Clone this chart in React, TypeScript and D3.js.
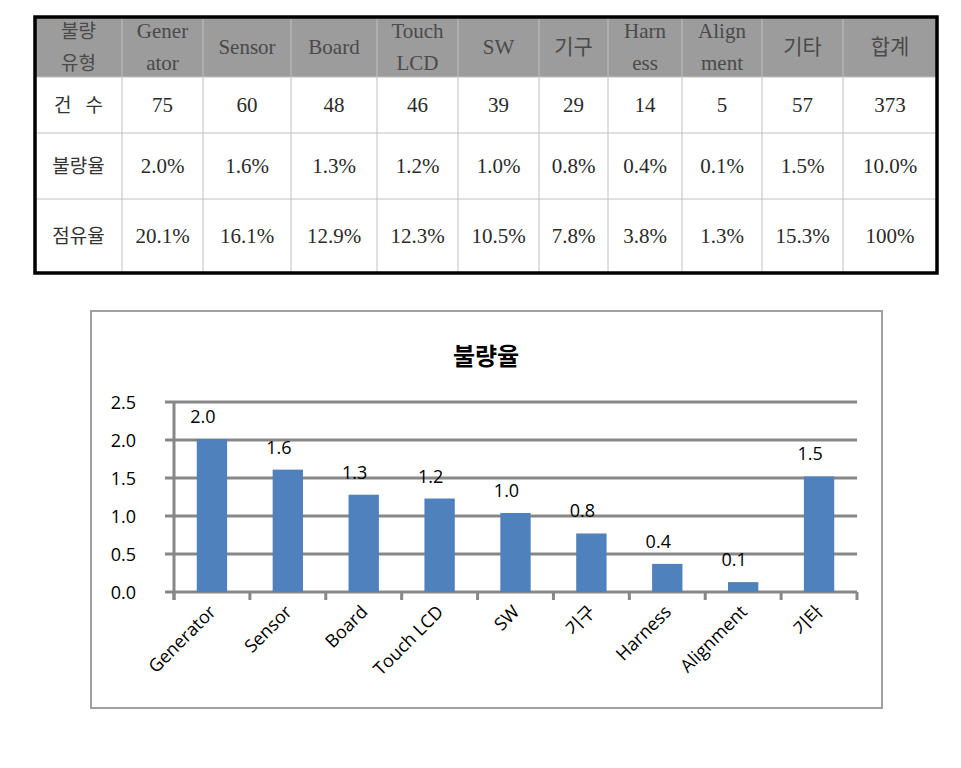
import React from "react";
import * as d3 from "d3";

// ---- table data ----
const headerLabel: string[] = ["불량", "유형"];
const tableHeaders: string[][] = [
  ["Gener", "ator"], ["Sensor"], ["Board"], ["Touch", "LCD"], ["SW"], ["기구"],
  ["Harn", "ess"], ["Align", "ment"], ["기타"], ["합계"],
];
const rowLabels: string[] = ["건   수", "불량율", "점유율"];
const countRow: string[] = ["75", "60", "48", "46", "39", "29", "14", "5", "57", "373"];
const rateRow: string[] = ["2.0%", "1.6%", "1.3%", "1.2%", "1.0%", "0.8%", "0.4%", "0.1%", "1.5%", "10.0%"];
const shareRow: string[] = ["20.1%", "16.1%", "12.9%", "12.3%", "10.5%", "7.8%", "3.8%", "1.3%", "15.3%", "100%"];

// ---- chart data ----
const chartTitle = "불량율";
const categories: string[] = ["Generator", "Sensor", "Board", "Touch LCD", "SW", "기구", "Harness", "Alignment", "기타"];
const defectRates: number[] = [2.01, 1.61, 1.28, 1.23, 1.04, 0.77, 0.37, 0.13, 1.52];
const yTicks: number[] = [0, 0.5, 1.0, 1.5, 2.0, 2.5];

const serif = "'Liberation Serif', 'DejaVu Serif', 'Noto Sans CJK KR', serif";
const sans = "'Noto Sans CJK KR', 'Open Sans', 'DejaVu Sans', sans-serif";
const latin = "'Open Sans', 'Noto Sans CJK KR', sans-serif";

export default function App() {
  // table geometry
  const colEdges = [35, 122, 203, 291, 377, 458, 539, 608, 682, 762, 843, 937];
  const rowEdges = [17, 77, 133, 199, 273];
  const rows = [countRow, rateRow, shareRow];

  // chart geometry
  const x = d3.scaleBand<string>().domain(categories).range([174, 857]).paddingInner(0.6).paddingOuter(0.3);
  const band = d3.scaleBand<string>().domain(categories).range([174, 857]);
  const y = d3.scaleLinear().domain([0, 2.5]).range([592, 402]);
  const tickEdges = d3.range(categories.length + 1).map((i) => 174 + i * band.step());

  return (
    <svg width={961} height={768} style={{ position: "absolute", left: 0, top: 0, display: "block" }}>
      <rect x={0} y={0} width={961} height={768} fill="#fff" />
      {/* ---------- table ---------- */}
      <rect x={colEdges[0]} y={rowEdges[0]} width={colEdges[colEdges.length - 1] - colEdges[0]} height={rowEdges[1] - rowEdges[0]} fill="#9c9c9c" />
      {colEdges.slice(1, -1).map((cx, i) => (
        <line key={"cv" + i} x1={cx} x2={cx} y1={rowEdges[0]} y2={rowEdges[rowEdges.length - 1]} stroke={"#c0c0c0"} strokeWidth={1} />
      ))}
      {rowEdges.slice(1, -1).map((ry, i) => (
        <line key={"rh" + i} x1={colEdges[0]} x2={colEdges[colEdges.length - 1]} y1={ry} y2={ry} stroke="#c0c0c0" strokeWidth={1} />
      ))}
      <rect x={colEdges[0]} y={rowEdges[0]} width={colEdges[colEdges.length - 1] - colEdges[0]} height={rowEdges[rowEdges.length - 1] - rowEdges[0]} fill="none" stroke="#000" strokeWidth={3.5} />
      {headerLabel.map((t, i) => (
        <text key={"hl" + i} x={(colEdges[0] + colEdges[1]) / 2} y={47 + (i - 0.5) * 32} textAnchor="middle" dominantBaseline="central" fontFamily={serif} fontSize={19} fill="#4a4a4a">{t}</text>
      ))}
      {tableHeaders.map((lines, c) => {
        const cx = (colEdges[c + 1] + colEdges[c + 2]) / 2;
        return lines.map((t, i) => (
          <text key={"h" + c + "-" + i} x={cx} y={47 + (i - (lines.length - 1) / 2) * 32} textAnchor="middle" dominantBaseline="central" fontFamily={serif} fontSize={21} fill="#4a4a4a">{t}</text>
        ));
      })}
      {rowLabels.map((t, r) => (
        <text key={"rl" + r} x={(colEdges[0] + colEdges[1]) / 2} y={(rowEdges[r + 1] + rowEdges[r + 2]) / 2} textAnchor="middle" dominantBaseline="central" fontFamily={serif} fontSize={19} fill="#333" style={{ whiteSpace: "pre" }}>{t}</text>
      ))}
      {rows.map((row, r) =>
        row.map((t, c) => (
          <text key={"c" + r + "-" + c} x={(colEdges[c + 1] + colEdges[c + 2]) / 2} y={(rowEdges[r + 1] + rowEdges[r + 2]) / 2} textAnchor="middle" dominantBaseline="central" fontFamily={serif} fontSize={21} fill="#2a2a2a">{t}</text>
        ))
      )}

      {/* ---------- chart ---------- */}
      <rect x={91} y={311} width={791} height={397} fill="#fff" stroke="#a0a0a0" strokeWidth={2} />
      <text x={486} y={354} textAnchor="middle" dominantBaseline="central" fontFamily={sans} fontWeight="bold" fontSize={24} fill="#000">{chartTitle}</text>
      {yTicks.map((t) => (
        <g key={"yt" + t}>
          <line x1={165} x2={857} y1={y(t)} y2={y(t)} stroke="#878787" strokeWidth={3} />
          <text x={136} y={y(t)} textAnchor="end" dominantBaseline="central" fontFamily={latin} fontSize={18} fill="#000">{t.toFixed(1)}</text>
        </g>
      ))}
      <line x1={174} x2={174} y1={y(2.5)} y2={600} stroke="#878787" strokeWidth={3} />
      {tickEdges.map((tx, i) => (
        <line key={"xt" + i} x1={tx} x2={tx} y1={592} y2={600} stroke="#878787" strokeWidth={3} />
      ))}
      {categories.map((c, i) => (
        <rect key={"b" + c} x={x(c)} y={y(defectRates[i])} width={x.bandwidth()} height={y(0) - y(defectRates[i])} fill="#4f81bd" />
      ))}
      {categories.map((c, i) => (
        <text key={"l" + c} x={(x(c) as number) + x.bandwidth() / 2 - 9} y={y(defectRates[i]) - 16} textAnchor="middle" fontFamily={latin} fontSize={18} fill="#000">{defectRates[i].toFixed(1)}</text>
      ))}
      {categories.map((c) => {
        const cx = (band(c) as number) + band.bandwidth() / 2 + 5;
        return (
          <text key={"xl" + c} transform={`translate(${cx},${613}) rotate(-45)`} textAnchor="end" fontFamily={latin} fontSize={18} fill="#000">{c}</text>
        );
      })}
    </svg>
  );
}
